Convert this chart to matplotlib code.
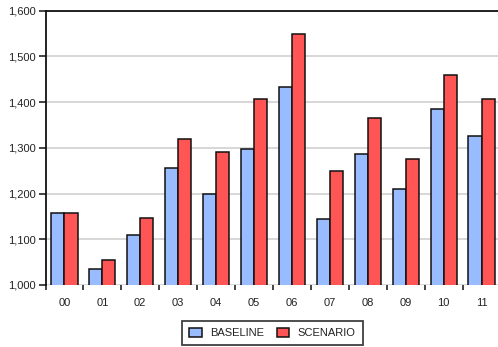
import matplotlib
matplotlib.use("Agg")
import matplotlib.pyplot as plt
import numpy as np
from matplotlib.ticker import FuncFormatter

years = ["00", "01", "02", "03", "04", "05", "06", "07", "08", "09", "10", "11"]
baseline = [1157, 1034, 1110, 1256, 1200, 1297, 1433, 1144, 1287, 1210, 1384, 1327]
scenario = [1157, 1054, 1146, 1320, 1290, 1406, 1550, 1250, 1366, 1276, 1459, 1406]
y_ticks = [1000, 1100, 1200, 1300, 1400, 1500, 1600]

plt.rcParams["font.family"] = ["Liberation Sans", "DejaVu Sans"]

W, H = 498, 347
fig = plt.figure(figsize=(W / 100, H / 100), dpi=100)
left, right, top, bottom = 45.5, 500.5, 10.7, 285.0
ax = fig.add_axes([left / W, 1 - bottom / H, (right - left) / W, (bottom - top) / H])

x = np.arange(len(years))
bw = 0.345
ax.bar(x - bw / 2, baseline, bw, color="#99bbff", edgecolor="#111111",
       linewidth=1.1, label="BASELINE", zorder=3)
ax.bar(x + bw / 2, scenario, bw, color="#ff5555", edgecolor="#111111",
       linewidth=1.1, label="SCENARIO", zorder=3)

ax.set_xlim(-0.5, len(years) - 0.5)
ax.set_ylim(1000, 1600)
ax.set_yticks(y_ticks)
ax.yaxis.set_major_formatter(FuncFormatter(lambda v, p: f"{int(v):,}"))
ax.grid(axis="y", color="#d4d4d4", linewidth=1.3, zorder=0)

ax.set_xticks(x)
ax.set_xticklabels(years)
ax.set_xticks(np.arange(-0.5, len(years) + 0.5, 1.0), minor=True)
ax.tick_params(axis="x", which="major", length=0, pad=9, labelsize=8, colors="#222222")
ax.tick_params(axis="x", which="minor", length=3.8, width=1.1, color="#111111")
ax.tick_params(axis="y", length=5, width=1.1, pad=2, labelsize=8, colors="#222222")
ax.tick_params(axis="y", color="#111111")

for s in ("bottom", "right"):
    ax.spines[s].set_visible(False)
for s in ("left", "top"):
    ax.spines[s].set_color("#111111")
    ax.spines[s].set_linewidth(1.3)

leg = fig.legend(loc="center", bbox_to_anchor=(272.5 / W, 1 - 333 / H),
                 ncol=2, frameon=True, fancybox=False, fontsize=8,
                 handlelength=1.1, handleheight=0.85, handletextpad=0.75,
                 columnspacing=1.2, borderpad=0.65)
leg.get_frame().set_edgecolor("#111111")
leg.get_frame().set_linewidth(1.3)
for t in leg.get_texts():
    t.set_color("#222222")

fig.savefig("out.png", dpi=100)
